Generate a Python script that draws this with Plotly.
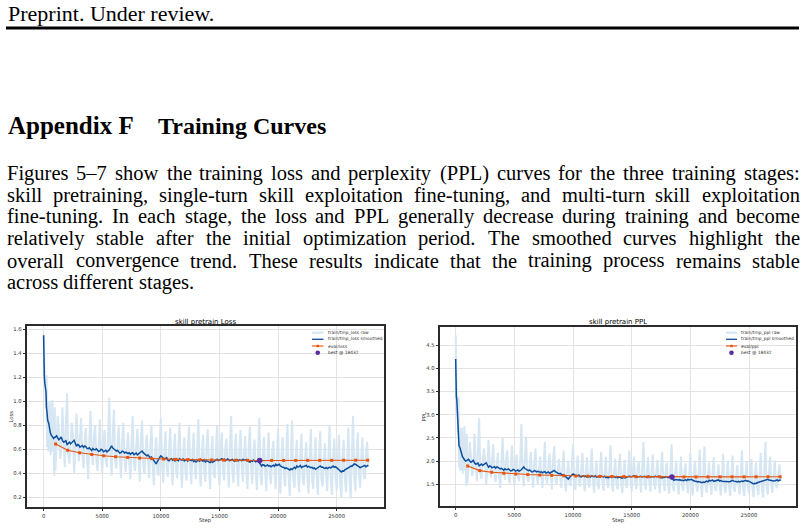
import plotly.graph_objects as go

# ---------------- data ----------------
# smoothed training loss / ppl: early (fine) part
smooth_early_steps = [0, 5, 30, 57, 100, 142, 200, 240, 284, 350, 427, 500, 569, 640, 711, 780, 853, 930]
smooth_loss_early = [1.55, 1.37, 1.30, 1.21, 1.15, 1.11, 1.08, 0.95, 0.85, 0.84, 0.82, 0.77, 0.74, 0.72, 0.71, 0.70, 0.69, 0.70]
smooth_ppl_early = [4.20, 3.96, 3.70, 3.40, 3.30, 3.05, 2.95, 2.60, 2.33, 2.30, 2.25, 2.17, 2.10, 2.06, 2.04, 2.02, 2.00, 2.01]

# smoothed values at steps 1000, 1200, 1400, ...
smooth_loss_reg = [
    0.700, 0.695, 0.690, 0.675, 0.665, 0.640, 0.660, 0.655, 0.675, 0.625,
    0.635, 0.625, 0.615, 0.622, 0.605, 0.600, 0.607, 0.597, 0.592, 0.587,
    0.595, 0.585, 0.578, 0.595, 0.628, 0.600, 0.585, 0.575, 0.572, 0.580,
    0.577, 0.565, 0.558, 0.572, 0.560, 0.553, 0.565, 0.586, 0.560, 0.545,
    0.540, 0.536, 0.500, 0.478, 0.520, 0.545, 0.530, 0.522, 0.510, 0.517,
    0.510, 0.503, 0.515, 0.522, 0.510, 0.503, 0.512, 0.517, 0.505, 0.497,
    0.494, 0.510, 0.517, 0.500, 0.495, 0.503, 0.489, 0.492, 0.505, 0.517,
    0.510, 0.522, 0.518, 0.510, 0.515, 0.511, 0.506, 0.512, 0.503, 0.510,
    0.517, 0.512, 0.502, 0.494, 0.500, 0.506, 0.503, 0.490, 0.461, 0.470,
    0.466, 0.460, 0.455, 0.468, 0.475, 0.470, 0.461, 0.450, 0.440, 0.438,
    0.428, 0.432, 0.450, 0.461, 0.455, 0.447, 0.455, 0.466, 0.458, 0.447,
    0.440, 0.433, 0.445, 0.461, 0.452, 0.440, 0.439, 0.450, 0.455, 0.450,
    0.447, 0.425, 0.411, 0.418, 0.433, 0.445, 0.461, 0.468, 0.475, 0.462,
    0.447, 0.455, 0.466, 0.460,
]
# smoothed values at steps 1100, 1300, 1500, ...
smooth_loss_mid = [
    0.712, 0.680, 0.702, 0.660, 0.672, 0.655, 0.645, 0.672, 0.650, 0.640,
    0.618, 0.632, 0.628, 0.608, 0.612, 0.590, 0.596, 0.605, 0.582, 0.600,
    0.580, 0.592, 0.585, 0.612, 0.610, 0.590, 0.592, 0.568, 0.585, 0.570,
    0.572, 0.571, 0.568, 0.555, 0.568, 0.560, 0.578, 0.572, 0.550, 0.552,
    0.530, 0.522, 0.485, 0.498, 0.532, 0.535, 0.518, 0.530, 0.505, 0.522,
    0.518, 0.512, 0.505, 0.512, 0.520, 0.510, 0.502, 0.510, 0.515, 0.505,
    0.503, 0.500, 0.508, 0.512, 0.506, 0.495, 0.500, 0.498, 0.512, 0.506,
    0.515, 0.512, 0.505, 0.520, 0.505, 0.515, 0.500, 0.515, 0.512, 0.505,
    0.508, 0.515, 0.495, 0.505, 0.510, 0.496, 0.510, 0.475, 0.472, 0.458,
    0.470, 0.464, 0.462, 0.458, 0.465, 0.475, 0.452, 0.448, 0.446, 0.428,
    0.438, 0.442, 0.440, 0.452, 0.465, 0.455, 0.460, 0.452, 0.450, 0.450,
    0.445, 0.440, 0.452, 0.450, 0.445, 0.448, 0.446, 0.445, 0.460, 0.455,
    0.436, 0.418, 0.420, 0.428, 0.440, 0.452, 0.458, 0.478, 0.465, 0.455,
    0.452, 0.462, 0.455, 0.468,
]
smooth_ppl_reg = [
    2.014, 2.004, 1.994, 1.964, 1.944, 1.897, 1.935, 1.925, 1.964, 1.868,
    1.887, 1.868, 1.850, 1.863, 1.831, 1.822, 1.835, 1.817, 1.808, 1.798,
    1.813, 1.795, 1.782, 1.813, 1.874, 1.822, 1.795, 1.777, 1.772, 1.786,
    1.781, 1.759, 1.747, 1.772, 1.751, 1.738, 1.759, 1.797, 1.751, 1.725,
    1.716, 1.709, 1.649, 1.613, 1.682, 1.725, 1.699, 1.685, 1.665, 1.677,
    1.665, 1.654, 1.674, 1.685, 1.665, 1.654, 1.669, 1.677, 1.657, 1.644,
    1.639, 1.665, 1.677, 1.649, 1.640, 1.654, 1.631, 1.636, 1.657, 1.677,
    1.665, 1.685, 1.679, 1.665, 1.674, 1.667, 1.659, 1.669, 1.654, 1.665,
    1.677, 1.669, 1.652, 1.639, 1.649, 1.659, 1.654, 1.632, 1.586, 1.600,
    1.594, 1.584, 1.576, 1.597, 1.608, 1.600, 1.586, 1.568, 1.553, 1.550,
    1.534, 1.540, 1.568, 1.586, 1.576, 1.564, 1.576, 1.594, 1.581, 1.564,
    1.553, 1.542, 1.560, 1.586, 1.571, 1.553, 1.551, 1.568, 1.576, 1.568,
    1.564, 1.530, 1.508, 1.519, 1.542, 1.560, 1.586, 1.597, 1.608, 1.587,
    1.564, 1.576, 1.594, 1.584,
]
smooth_ppl_mid = [
    2.038, 1.974, 2.018, 1.935, 1.958, 1.925, 1.906, 1.958, 1.916, 1.896,
    1.855, 1.881, 1.874, 1.837, 1.844, 1.804, 1.815, 1.831, 1.790, 1.822,
    1.786, 1.808, 1.795, 1.844, 1.840, 1.804, 1.808, 1.765, 1.795, 1.768,
    1.772, 1.770, 1.765, 1.742, 1.765, 1.751, 1.782, 1.772, 1.733, 1.737,
    1.699, 1.685, 1.624, 1.645, 1.702, 1.707, 1.679, 1.699, 1.657, 1.685,
    1.679, 1.669, 1.657, 1.669, 1.682, 1.665, 1.652, 1.665, 1.674, 1.657,
    1.654, 1.649, 1.662, 1.669, 1.659, 1.640, 1.649, 1.645, 1.669, 1.659,
    1.674, 1.669, 1.657, 1.682, 1.657, 1.674, 1.649, 1.674, 1.669, 1.657,
    1.662, 1.674, 1.640, 1.657, 1.665, 1.642, 1.665, 1.608, 1.603, 1.581,
    1.600, 1.590, 1.587, 1.581, 1.592, 1.608, 1.571, 1.565, 1.562, 1.534,
    1.550, 1.556, 1.553, 1.571, 1.592, 1.576, 1.584, 1.571, 1.568, 1.568,
    1.560, 1.553, 1.571, 1.568, 1.560, 1.565, 1.562, 1.560, 1.584, 1.576,
    1.547, 1.519, 1.522, 1.534, 1.553, 1.571, 1.581, 1.613, 1.592, 1.576,
    1.571, 1.587, 1.576, 1.597,
]

# raw training loss / ppl: early part
raw_early_steps = [0, 20, 60, 100, 150, 200, 250, 300, 350, 400, 450, 500, 550, 600, 650, 700, 750, 800, 850, 900, 950]
raw_loss_early = [1.55, 1.38, 1.40, 1.18, 1.22, 0.95, 1.22, 0.62, 1.00, 0.58, 0.97, 0.60, 1.00, 0.55, 0.92, 0.58, 1.01, 0.62, 0.88, 0.38, 0.95]
raw_ppl_early = [4.71, 3.97, 4.06, 3.25, 3.39, 2.59, 3.39, 1.86, 2.72, 1.79, 2.64, 1.82, 2.72, 1.73, 2.51, 1.79, 2.75, 1.86, 2.41, 1.46, 2.59]

# raw values at steps 1000, 1200, ...
raw_loss_reg = [
    0.42, 0.88, 0.52, 0.95, 0.45, 1.07, 0.48, 0.82, 0.40, 0.90,
    0.50, 0.86, 0.44, 0.78, 0.35, 0.92, 0.47, 0.80, 0.42, 0.85,
    0.40, 0.76, 0.45, 1.03, 0.38, 0.93, 0.44, 0.79, 0.36, 0.82,
    0.41, 0.74, 0.35, 0.88, 0.42, 0.77, 0.33, 0.84, 0.40, 0.72,
    0.36, 0.80, 0.30, 0.70, 0.38, 0.86, 0.32, 0.75, 0.37, 0.78,
    0.30, 0.73, 0.36, 0.82, 0.28, 0.70, 0.34, 0.79, 0.31, 0.74,
    0.35, 0.85, 0.29, 0.72, 0.33, 0.77, 0.27, 0.71, 0.36, 0.80,
    0.30, 0.74, 0.34, 0.69, 0.28, 0.88, 0.32, 0.73, 0.29, 0.76,
    0.33, 0.71, 0.27, 0.79, 0.31, 0.68, 0.26, 0.86, 0.30, 0.70,
    0.25, 0.74, 0.31, 0.67, 0.27, 0.78, 0.23, 0.70, 0.29, 0.81,
    0.21, 0.84, 0.28, 0.68, 0.24, 0.73, 0.30, 0.66, 0.23, 0.77,
    0.27, 0.70, 0.22, 0.75, 0.29, 0.65, 0.25, 0.80, 0.22, 0.69,
    0.26, 0.72, 0.20, 0.68, 0.24, 0.78, 0.19, 0.88, 0.25, 0.74,
    0.28, 0.70, 0.35, 0.66,
]
# raw values at steps 1100, 1300, ...
raw_loss_mid = [
    0.62, 0.75, 0.58, 0.70, 0.80, 0.55, 0.66, 0.72, 0.60, 0.68,
    0.70, 0.55, 0.66, 0.52, 0.68, 0.58, 0.72, 0.50, 0.64, 0.57,
    0.66, 0.52, 0.70, 0.55, 0.74, 0.50, 0.63, 0.56, 0.68, 0.51,
    0.60, 0.50, 0.66, 0.48, 0.62, 0.54, 0.70, 0.47, 0.58, 0.52,
    0.62, 0.45, 0.56, 0.42, 0.64, 0.48, 0.58, 0.44, 0.60, 0.47,
    0.58, 0.42, 0.62, 0.46, 0.55, 0.40, 0.60, 0.45, 0.57, 0.43,
    0.60, 0.44, 0.56, 0.41, 0.62, 0.46, 0.55, 0.40, 0.58, 0.45,
    0.57, 0.43, 0.61, 0.47, 0.64, 0.42, 0.58, 0.44, 0.60, 0.46,
    0.56, 0.41, 0.62, 0.44, 0.57, 0.40, 0.59, 0.38, 0.55, 0.42,
    0.54, 0.38, 0.58, 0.40, 0.52, 0.36, 0.56, 0.39, 0.53, 0.37,
    0.55, 0.36, 0.52, 0.39, 0.57, 0.35, 0.51, 0.38, 0.54, 0.36,
    0.52, 0.37, 0.56, 0.35, 0.50, 0.39, 0.55, 0.34, 0.53, 0.38,
    0.50, 0.33, 0.54, 0.36, 0.52, 0.34, 0.57, 0.37, 0.55, 0.39,
    0.53, 0.38, 0.56, 0.45,
]
raw_ppl_reg = [
    1.52, 2.41, 1.68, 2.59, 1.57, 2.92, 1.62, 2.27, 1.49, 2.46,
    1.65, 2.36, 1.55, 2.18, 1.42, 2.51, 1.60, 2.23, 1.52, 2.34,
    1.49, 2.14, 1.57, 2.80, 1.46, 2.53, 1.55, 2.20, 1.43, 2.27,
    1.51, 2.10, 1.42, 2.41, 1.52, 2.16, 1.39, 2.32, 1.49, 2.05,
    1.43, 2.23, 1.35, 2.01, 1.46, 2.36, 1.38, 2.12, 1.45, 2.18,
    1.35, 2.08, 1.43, 2.27, 1.32, 2.01, 1.40, 2.20, 1.36, 2.10,
    1.42, 2.34, 1.34, 2.05, 1.39, 2.16, 1.31, 2.03, 1.43, 2.23,
    1.35, 2.10, 1.40, 1.99, 1.32, 2.41, 1.38, 2.08, 1.34, 2.14,
    1.39, 2.03, 1.31, 2.20, 1.36, 1.97, 1.30, 2.36, 1.35, 2.01,
    1.28, 2.10, 1.36, 1.95, 1.31, 2.18, 1.26, 2.01, 1.34, 2.25,
    1.23, 2.32, 1.32, 1.97, 1.27, 2.08, 1.35, 1.93, 1.26, 2.16,
    1.31, 2.01, 1.25, 2.12, 1.34, 1.92, 1.28, 2.23, 1.25, 1.99,
    1.30, 2.05, 1.22, 1.97, 1.27, 2.18, 1.21, 2.41, 1.28, 2.10,
    1.32, 2.01, 1.42, 1.93,
]
raw_ppl_mid = [
    1.86, 2.12, 1.79, 2.01, 2.23, 1.73, 1.93, 2.05, 1.82, 1.97,
    2.01, 1.73, 1.93, 1.68, 1.97, 1.79, 2.05, 1.65, 1.90, 1.77,
    1.93, 1.68, 2.01, 1.73, 2.10, 1.65, 1.88, 1.75, 1.97, 1.67,
    1.82, 1.65, 1.93, 1.62, 1.86, 1.72, 2.01, 1.60, 1.79, 1.68,
    1.86, 1.57, 1.75, 1.52, 1.90, 1.62, 1.79, 1.55, 1.82, 1.60,
    1.79, 1.52, 1.86, 1.58, 1.73, 1.49, 1.82, 1.57, 1.77, 1.54,
    1.82, 1.55, 1.75, 1.51, 1.86, 1.58, 1.73, 1.49, 1.79, 1.57,
    1.77, 1.54, 1.84, 1.60, 1.90, 1.52, 1.79, 1.55, 1.82, 1.58,
    1.75, 1.51, 1.86, 1.55, 1.77, 1.49, 1.80, 1.46, 1.73, 1.52,
    1.72, 1.46, 1.79, 1.49, 1.68, 1.43, 1.75, 1.48, 1.70, 1.45,
    1.73, 1.43, 1.68, 1.48, 1.77, 1.42, 1.67, 1.46, 1.72, 1.43,
    1.68, 1.45, 1.75, 1.42, 1.65, 1.48, 1.73, 1.40, 1.70, 1.46,
    1.65, 1.39, 1.72, 1.43, 1.68, 1.40, 1.77, 1.45, 1.73, 1.48,
    1.70, 1.46, 1.75, 1.57,
]

# evaluation every 1024 steps
eval_steps = [1024 * k for k in range(1, 28)]
eval_loss = [0.644, 0.592, 0.571, 0.557, 0.546, 0.538, 0.532, 0.527, 0.522, 0.519,
             0.516, 0.514, 0.512, 0.511, 0.510, 0.509, 0.508, 0.506, 0.507, 0.507,
             0.507, 0.508, 0.508, 0.508, 0.509, 0.509, 0.509]
eval_ppl = [1.895, 1.795, 1.760, 1.738, 1.722, 1.710, 1.700, 1.692, 1.684, 1.679,
            1.675, 1.671, 1.668, 1.666, 1.664, 1.663, 1.661, 1.657, 1.659, 1.659,
            1.660, 1.661, 1.661, 1.661, 1.662, 1.662, 1.662]
best_step = 18432
best_loss = 0.506
best_ppl = 1.657

x_ticks = [0, 5000, 10000, 15000, 20000, 25000]
loss_ticks = [0.2, 0.4, 0.6, 0.8, 1.0, 1.2, 1.4, 1.6]
ppl_ticks = [1.5, 2.0, 2.5, 3.0, 3.5, 4.0, 4.5]

body_lines = [
    "Figures 5\u20137 show the training loss and perplexity (PPL) curves for the three training stages:",
    "skill pretraining, single-turn skill exploitation fine-tuning, and multi-turn skill exploitation",
    "fine-tuning. In each stage, the loss and PPL generally decrease during training and become",
    "relatively stable after the initial optimization period. The smoothed curves highlight the",
    "overall convergence trend. These results indicate that the training process remains stable",
    "across different stages.",
]

# ---------------- helpers ----------------
W, H = 805, 530
def px(x):
    return x / W
def py(y):
    return 1 - y / H

RAW_C = "#d6e6f2"
SM_C = "#0d4f9e"
EV_C = "#e6550d"
BEST_C = "#5b2a9e"
SANS = "DejaVu Sans"
SERIF = "Liberation Serif"

# approximate Times advance widths (1/1000 em) for justification
TW = {" ": 250, "(": 333, ")": 333, ",": 250, "-": 333, ".": 250, ":": 278, "5": 500, "7": 500,
      "\u2013": 500, "F": 556, "I": 333, "L": 611, "P": 556, "T": 611,
      "a": 444, "b": 500, "c": 444, "d": 500, "e": 444, "f": 333, "g": 500, "h": 500, "i": 278,
      "j": 278, "k": 500, "l": 278, "m": 778, "n": 500, "o": 500, "p": 500, "q": 500, "r": 333,
      "s": 389, "t": 278, "u": 500, "v": 500, "w": 722, "x": 500, "y": 500, "z": 444}
def text_w(s, size):
    return sum(TW.get(c, 500) for c in s) * size / 1000.0

def interleave(reg, mid):
    steps, vals = [], []
    for i in range(len(reg)):
        steps.append(1000 + 200 * i)
        vals.append(reg[i])
        if i < len(mid):
            steps.append(1100 + 200 * i)
            vals.append(mid[i])
    return steps, vals

sl_steps, sl_vals = interleave(smooth_loss_reg, smooth_loss_mid)
sp_steps, sp_vals = interleave(smooth_ppl_reg, smooth_ppl_mid)
rl_steps, rl_vals = interleave(raw_loss_reg, raw_loss_mid)
rp_steps, rp_vals = interleave(raw_ppl_reg, raw_ppl_mid)

fig = go.Figure()
panels = [
    dict(xa="x", ya="y", rx=raw_early_steps + rl_steps, raw=raw_loss_early + rl_vals,
         sx=smooth_early_steps + sl_steps, sm=smooth_loss_early + sl_vals,
         ev=eval_loss, best=best_loss, name="loss"),
    dict(xa="x2", ya="y2", rx=raw_early_steps + rp_steps, raw=raw_ppl_early + rp_vals,
         sx=smooth_early_steps + sp_steps, sm=smooth_ppl_early + sp_vals,
         ev=eval_ppl, best=best_ppl, name="ppl"),
]
for p in panels:
    fig.add_trace(go.Scatter(x=p["rx"], y=p["raw"], mode="lines",
                             line=dict(color=RAW_C, width=2.0), xaxis=p["xa"], yaxis=p["ya"],
                             name="train/tmp_%s raw" % p["name"]))
    fig.add_trace(go.Scatter(x=p["sx"], y=p["sm"], mode="lines",
                             line=dict(color=SM_C, width=1.5), xaxis=p["xa"], yaxis=p["ya"],
                             name="train/tmp_%s smoothed" % p["name"]))
    fig.add_trace(go.Scatter(x=eval_steps, y=p["ev"], mode="lines+markers",
                             line=dict(color=EV_C, width=1.1),
                             marker=dict(symbol="square", size=3, color=EV_C),
                             xaxis=p["xa"], yaxis=p["ya"], name="eval/%s" % p["name"]))
    fig.add_trace(go.Scatter(x=[best_step], y=[p["best"]], mode="markers",
                             marker=dict(size=5.5, color=BEST_C), xaxis=p["xa"], yaxis=p["ya"],
                             name="best @ %d" % best_step))

axis_common = dict(showgrid=True, gridcolor="#e3e3e3", gridwidth=0.8, zeroline=False,
                   showline=True, mirror=True, linecolor="#2b2b2b", linewidth=1.5,
                   ticks="outside", ticklen=2.5, tickwidth=0.8, tickcolor="#333",
                   tickfont=dict(family=SANS, size=5.3, color="#333"))

fig.update_layout(
    width=W, height=H, margin=dict(l=0, r=0, t=0, b=0),
    paper_bgcolor="white", plot_bgcolor="white", showlegend=False,
    xaxis=dict(domain=[px(27), px(384)], range=[-1420, 29040], anchor="y",
               tickvals=x_ticks, ticktext=[str(v) for v in x_ticks], **axis_common),
    yaxis=dict(domain=[py(507), py(326)], range=[0.119, 1.628], anchor="x",
               tickvals=loss_ticks, ticktext=["%.1f" % v for v in loss_ticks], **axis_common),
    xaxis2=dict(domain=[px(440), px(796)], range=[-1336, 29005], anchor="y2",
                tickvals=x_ticks, ticktext=[str(v) for v in x_ticks], **axis_common),
    yaxis2=dict(domain=[py(506), py(327)], range=[1.033, 4.888], anchor="x2",
                tickvals=ppl_ticks, ticktext=["%.1f" % v for v in ppl_ticks], **axis_common),
)

ann = []
shapes = []
# page header
ann.append(dict(text="Preprint. Under review.", x=px(6), y=py(14), xanchor="left", yanchor="middle",
                font=dict(family=SERIF, size=22, color="black")))
shapes.append(dict(type="line", xref="paper", yref="paper", x0=px(6), x1=px(799), y0=py(28), y1=py(28),
                   line=dict(color="black", width=3)))
ann.append(dict(text="<b>Appendix F</b>", x=px(6), y=py(126), xanchor="left", yanchor="middle",
                font=dict(family=SERIF, size=25, color="black")))
ann.append(dict(text="<b>Training Curves</b>", x=px(156), y=py(126), xanchor="left", yanchor="middle",
                font=dict(family=SERIF, size=24, color="black")))

# justified body paragraph, word by word (each word centred on its slot)
BODY_SIZE = 20.5
LEFT, RIGHT = 7.0, 800.0
line_y = [173, 195, 216.5, 238.5, 260.5, 282]
for li, (t, yy) in enumerate(zip(body_lines, line_y)):
    words = t.split(" ")
    last = li == len(body_lines) - 1
    widths = [text_w(w, BODY_SIZE) for w in words]
    if last:
        gap = text_w(" ", BODY_SIZE)
    else:
        gap = (RIGHT - LEFT - sum(widths)) / (len(words) - 1)
    xpos = LEFT
    for w, ww in zip(words, widths):
        ann.append(dict(text=w, x=px(xpos + ww / 2), y=py(yy), xanchor="center", yanchor="middle",
                        font=dict(family=SERIF, size=BODY_SIZE, color="black")))
        xpos += ww + gap

# chart titles and axis labels
for cx, title in [((27 + 384) / 2, "skill pretrain Loss"), ((440 + 796) / 2, "skill pretrain PPL")]:
    ann.append(dict(text=title, x=px(cx), y=py(321.5), xanchor="center", yanchor="middle",
                    font=dict(family=SANS, size=7, color="black")))
    ann.append(dict(text="Step", x=px(cx), y=py(520), xanchor="center", yanchor="middle",
                    font=dict(family=SANS, size=5.3, color="#333")))
ann.append(dict(text="Loss", x=px(10), y=py(416.5), xanchor="center", yanchor="middle", textangle=-90,
                font=dict(family=SANS, size=5.3, color="#333")))
ann.append(dict(text="PPL", x=px(423), y=py(416.5), xanchor="center", yanchor="middle", textangle=-90,
                font=dict(family=SANS, size=5.3, color="#333")))

# hand-drawn legends
rows = [332.7, 339.3, 346.0, 352.7]
for (sx0, sx1, tx, nm) in [(312, 323.5, 325.5, "loss"), (726, 737, 738.5, "ppl")]:
    labels = ["train/tmp_%s raw" % nm, "train/tmp_%s smoothed" % nm, "eval/%s" % nm, "best @ %d" % best_step]
    cxm = (sx0 + sx1) / 2
    shapes.append(dict(type="line", xref="paper", yref="paper", x0=px(sx0), x1=px(sx1),
                       y0=py(rows[0]), y1=py(rows[0]), line=dict(color=RAW_C, width=2.2)))
    shapes.append(dict(type="line", xref="paper", yref="paper", x0=px(sx0), x1=px(sx1),
                       y0=py(rows[1]), y1=py(rows[1]), line=dict(color=SM_C, width=1.3)))
    shapes.append(dict(type="line", xref="paper", yref="paper", x0=px(sx0), x1=px(sx1),
                       y0=py(rows[2]), y1=py(rows[2]), line=dict(color=EV_C, width=1.1)))
    shapes.append(dict(type="rect", xref="paper", yref="paper", x0=px(cxm - 1.2), x1=px(cxm + 1.2),
                       y0=py(rows[2] + 1.2), y1=py(rows[2] - 1.2), line=dict(width=0), fillcolor=EV_C))
    shapes.append(dict(type="circle", xref="paper", yref="paper", x0=px(cxm - 2.3), x1=px(cxm + 2.3),
                       y0=py(rows[3] + 2.3), y1=py(rows[3] - 2.3), line=dict(width=0), fillcolor=BEST_C))
    for lab, ry in zip(labels, rows):
        ann.append(dict(text=lab, x=px(tx), y=py(ry), xanchor="left", yanchor="middle",
                        font=dict(family=SANS, size=4.4, color="#333")))

for a in ann:
    a.update(xref="paper", yref="paper", showarrow=False)
fig.update_layout(annotations=ann, shapes=shapes)

fig.write_html("out.html")
